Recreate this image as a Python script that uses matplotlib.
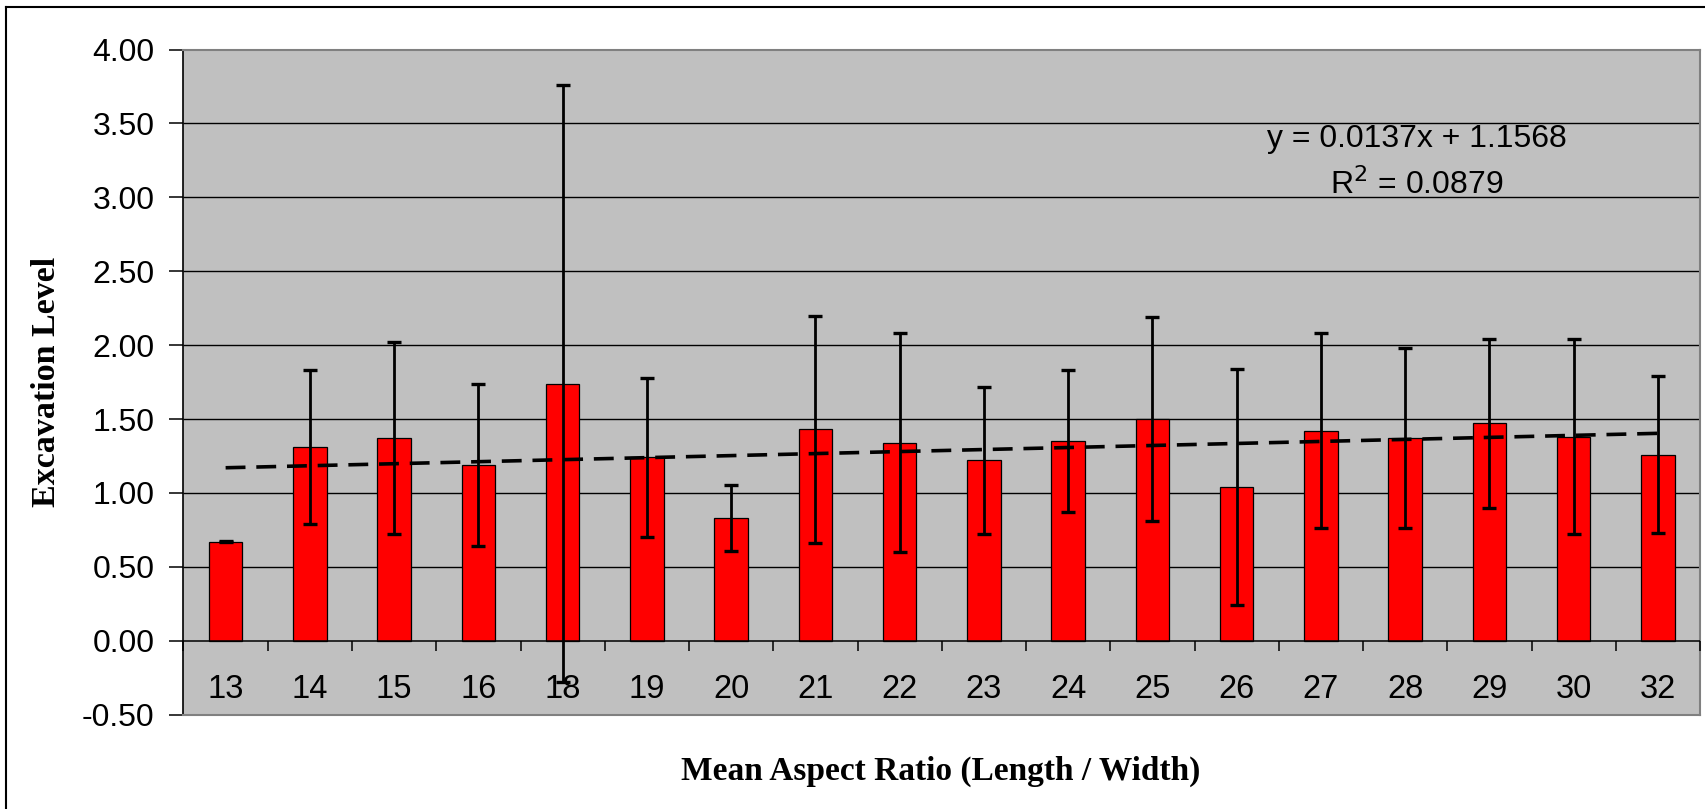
import numpy as np
import matplotlib.pyplot as plt
from matplotlib.lines import Line2D
from matplotlib.ticker import FormatStrFormatter

# aspect ratio classes and excavation level (mean +/- sd)
categories = ["13", "14", "15", "16", "18", "19", "20", "21", "22",
              "23", "24", "25", "26", "27", "28", "29", "30", "32"]
means = [0.67, 1.31, 1.37, 1.19, 1.74, 1.24, 0.83, 1.43, 1.34,
         1.22, 1.35, 1.50, 1.04, 1.42, 1.37, 1.47, 1.38, 1.26]
errs = [0.005, 0.52, 0.65, 0.55, 2.02, 0.54, 0.225, 0.77, 0.74,
        0.50, 0.48, 0.69, 0.80, 0.66, 0.61, 0.57, 0.66, 0.53]
trend_slope = 0.0137
trend_icept = 1.1568
trend_r2 = 0.0879

plt.rcParams["axes.unicode_minus"] = False
sans = ["Liberation Sans", "DejaVu Sans"]
serif = ["Liberation Serif", "DejaVu Serif"]

fig = plt.figure(figsize=(17.06, 8.09), dpi=100)
ax = fig.add_axes([183.5/1706, 1 - 714.7/809, (1700 - 183.5)/1706, (714.7 - 49.5)/809])
ax.set_facecolor("#C0C0C0")

x = np.arange(len(categories))
ax.hlines(np.arange(0.5, 3.51, 0.5), -0.5, len(categories) - 0.5, color="black", lw=1, zorder=1)
ax.bar(x, means, width=0.4, color="#FF0000", edgecolor="black", lw=0.9, zorder=2)

tx = np.array([x[0], x[-1]])
ax.plot(tx, trend_slope*(tx + 1) + trend_icept, "--", color="black", lw=2.6,
        dashes=(5.5, 3), zorder=3)
ax.errorbar(x, means, yerr=errs, fmt="none", ecolor="black", elinewidth=2.0,
            capsize=5, capthick=2.4, zorder=4)

# category axis crosses at zero, boundary ticks point down
ax.axhline(0, color="black", lw=1.1, zorder=3)
ax.vlines(np.arange(-0.5, len(categories)), -0.068, 0, color="black", lw=1.1, clip_on=False, zorder=3)
for xi, lab in zip(x, categories):
    ax.text(xi, -0.39, lab, ha="center", va="baseline", fontsize=23.5, family=sans)

ax.set_xlim(-0.5, len(categories) - 0.5)
ax.set_ylim(-0.5, 4.0)
ax.set_xticks([])
ax.set_yticks(np.arange(-0.5, 4.01, 0.5))
ax.yaxis.set_major_formatter(FormatStrFormatter("%.2f"))
ax.tick_params(axis="y", direction="out", length=10, width=1.1, pad=11, labelsize=23)
for t in ax.get_yticklabels():
    t.set_family(sans)

ax.spines["left"].set_color("black")
ax.spines["left"].set_linewidth(1.2)
for s in ["top", "right", "bottom"]:
    ax.spines[s].set_color("#808080")
    ax.spines[s].set_linewidth(1.5)

ax.text(14.14, 3.394, "y = %.4fx + %.4f" % (trend_slope, trend_icept),
        ha="center", va="center", fontsize=23, family=sans)
ax.text(14.14, 3.083, "R$^2$ = %.4f" % trend_r2,
        ha="center", va="center", fontsize=23, family=sans)

fig.text(46.7/1706, 1 - 382/809, "Excavation Level", rotation=90, ha="center", va="center",
         fontsize=24.5, fontweight="bold", family=serif)
fig.text(941/1706, 1 - 780/809, "Mean Aspect Ratio (Length / Width)", ha="center",
         va="baseline", fontsize=24, fontweight="bold", family=serif)

# outer frame (left and top edges only visible)
fig.add_artist(Line2D([6/1706, 6/1706], [0, 1 - 7/809], color="black", lw=1.5))
fig.add_artist(Line2D([6/1706, 1], [1 - 7/809, 1 - 7/809], color="black", lw=1.5))

plt.savefig("out.png", dpi=100)
